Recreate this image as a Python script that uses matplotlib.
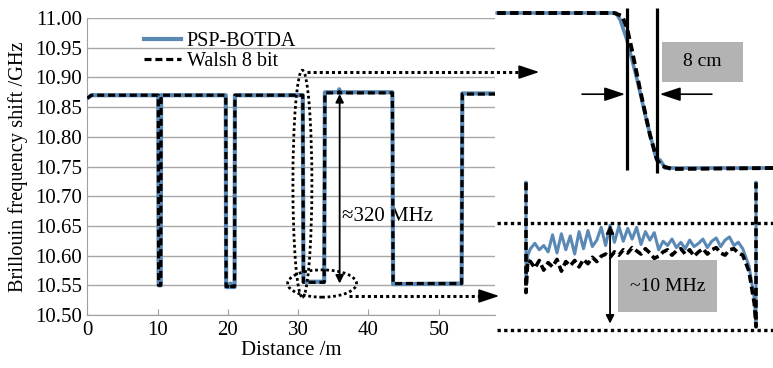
import numpy as np
import matplotlib
matplotlib.use("Agg")
import matplotlib.pyplot as plt
from matplotlib.patches import Ellipse, Rectangle

plt.rcParams['font.family'] = ['Liberation Serif', 'DejaVu Serif']

# main trace: distance (m) and Brillouin frequency shift (GHz)
dist_m = [0, 0.6, 10.1, 10.15, 10.45, 10.5, 19.7, 19.75, 20.2, 20.35, 20.5, 20.95, 21.0,
          30.65, 30.75, 33.7, 33.8, 35.8, 35.85, 35.9, 43.4, 43.5, 53.25, 53.35, 58]
bfs_psp = [10.865, 10.870, 10.870, 10.550, 10.550, 10.870, 10.870, 10.547, 10.547, 10.553, 10.547, 10.547, 10.870,
           10.870, 10.556, 10.556, 10.875, 10.875, 10.880, 10.875, 10.875, 10.552, 10.553, 10.873, 10.873]
bfs_walsh = [10.865, 10.870, 10.870, 10.550, 10.550, 10.870, 10.870, 10.548, 10.548, 10.552, 10.548, 10.548, 10.870,
             10.870, 10.555, 10.555, 10.874, 10.874, 10.876, 10.874, 10.874, 10.553, 10.553, 10.872, 10.872]

# zoom 1: falling edge, position in cm
edge_cm = [1.9, 33.4, 34.5, 36.3, 39.0, 41.6, 44.0, 45.1, 46.4, 75.0]
edge_psp = [10.870, 10.870, 10.856, 10.815, 10.734, 10.648, 10.575, 10.571, 10.555, 10.555]
edge_cm_w = [1.9, 32.9, 35.0, 36.3, 37.6, 39.8, 42.4, 44.3, 45.6, 48.2, 75.0]
edge_walsh = [10.870, 10.870, 10.864, 10.840, 10.795, 10.713, 10.622, 10.571, 10.559, 10.553, 10.555]
marks_cm = [36.3, 44.3]

# zoom 2: low plateau, MHz above 10.55 GHz
plateau_m = np.linspace(31.05, 33.45, 49)
psp_mhz = [7.6, 8.1, 7.5, 7.9, 7.3, 8.9, 7.2, 9.0, 7.5, 8.8,
           7.1, 9.2, 7.6, 9.3, 7.8, 8.4, 9.6, 7.9, 9.8, 8.2,
           9.7, 8.3, 9.5, 8.5, 9.6, 8.0, 9.2, 8.4, 9.1, 7.5,
           8.3, 7.9, 8.5, 7.7, 8.2, 7.6, 8.4, 7.8, 8.1, 8.5,
           7.7, 8.3, 8.6, 7.8, 8.4, 8.7, 7.9, 8.2, 7.6]
walsh_mhz = [6.4, 5.8, 6.5, 5.6, 6.3, 5.9, 6.6, 5.5, 6.4, 6.0,
             6.5, 5.9, 6.6, 6.2, 6.8, 6.4, 6.9, 7.1, 6.8, 7.3,
             7.0, 7.5, 7.2, 7.7, 7.4, 7.1, 7.6, 7.2, 6.7, 6.9,
             7.3, 7.5, 7.0, 7.4, 7.6, 7.1, 7.5, 6.9, 7.3, 7.6,
             7.1, 7.5, 7.7, 7.2, 7.0, 7.5, 7.6, 7.2, 7.0]
left_m = [31.0, 31.0, 31.02]
psp_left = [13.8, 4.5, 7.0]
walsh_left = [13.8, 3.5, 6.5]
right_m = [33.52, 33.58, 33.6, 33.6]
psp_right = [6.0, 3.0, 0.5, 13.8]
walsh_right = [5.5, 2.5, 0.3, 13.8]

BLUE = '#5b89b6'
GRAY_BOX = '#b3b3b3'
dash = (0, (2.2, 1.2))
dots = (0, (1, 1))
arrow_head = '-|>,head_length=0.9,head_width=0.3'

fig = plt.figure(figsize=(7.73, 3.68), dpi=100)
W, H = 773, 368
ax = fig.add_axes([87.3 / W, 1 - 315 / H, (495 - 87.3) / W, (315 - 18) / H])

ax.plot(dist_m, bfs_psp, color=BLUE, lw=3.0, label='PSP-BOTDA', zorder=3)
ax.plot(dist_m, bfs_walsh, color='black', lw=2.3, ls=dash, label='Walsh 8 bit', zorder=4)

ax.set_xlim(0, 58)
ax.set_ylim(10.5, 11.0)
ax.set_xticks([0, 10, 20, 30, 40, 50])
ax.set_yticks(np.arange(10.5, 11.001, 0.05))
ax.yaxis.set_major_formatter(matplotlib.ticker.FormatStrFormatter('%.2f'))
ax.grid(axis='y', color='#a8a8a8', lw=1.0)
ax.set_axisbelow(True)
for s in ['top', 'right']:
    ax.spines[s].set_visible(False)
for s in ['left', 'bottom']:
    ax.spines[s].set_color('#a0a0a0')
ax.tick_params(axis='x', direction='in', length=4, color='#a0a0a0', labelsize=15, pad=4)
ax.tick_params(axis='y', length=0, labelsize=15, pad=4)
ax.set_xlabel('Distance /m', fontsize=15, labelpad=1)
ax.set_ylabel('Brillouin frequency shift /GHz', fontsize=14.7, labelpad=5)

ax.legend(loc='upper left', bbox_to_anchor=(0.12, 0.98), frameon=False, fontsize=14.5,
          handlelength=1.8, handletextpad=0.3, labelspacing=0.02, borderaxespad=0)

# annotations on main plot
ax.annotate('', xy=(35.9, 10.872), xytext=(35.9, 10.553),
            arrowprops=dict(arrowstyle='<|-|>', color='black', lw=1.3, mutation_scale=12,
                            shrinkA=0, shrinkB=0), zorder=5)
ax.text(36.3, 10.665, '≈320 MHz', fontsize=15, ha='left', va='center', zorder=2)
ax.add_patch(Ellipse((30.6, 10.721), 2.7, 0.382, fill=False, ls=dots, lw=2.0, color='black',
                     clip_on=False, zorder=6))
ax.add_patch(Ellipse((33.4, 10.553), 9.8, 0.046, fill=False, ls=dots, lw=2.0, color='black',
                     clip_on=False, zorder=6))
ax.plot([31.2, 63.0], [10.909, 10.909], color='black', lw=2.2, ls=dots, clip_on=False, zorder=6)
ax.annotate('', xy=(64.3, 10.909), xytext=(62.0, 10.909),
            arrowprops=dict(arrowstyle=arrow_head, color='black', lw=1.2,
                            mutation_scale=14, shrinkA=0, shrinkB=0), annotation_clip=False, zorder=6)
ax.plot([37.3, 57.3], [10.532, 10.532], color='black', lw=2.2, ls=dots, clip_on=False, zorder=6)
ax.annotate('', xy=(58.6, 10.532), xytext=(56.3, 10.532),
            arrowprops=dict(arrowstyle=arrow_head, color='black', lw=1.2,
                            mutation_scale=14, shrinkA=0, shrinkB=0), annotation_clip=False, zorder=6)

# top inset: edge sharpness
ax1 = fig.add_axes([490 / W, 1 - 175 / H, 283 / W, 175 / H])
ax1.patch.set_alpha(0)
ax1.axis('off')
ax1.set_xlim(0, 75)
ax1.set_ylim(10.5408, 10.8964)
ax1.plot(edge_cm, edge_psp, color=BLUE, lw=2.6, zorder=3)
ax1.plot(edge_cm_w, edge_walsh, color='black', lw=2.8, ls=(0, (2.2, 1.1)), zorder=4)
ax1.vlines(marks_cm, [10.551, 10.545], [10.880, 10.880], color='black', lw=2.3, zorder=5)
ax1.annotate('', xy=(35.8, 10.705), xytext=(24.4, 10.705),
             arrowprops=dict(arrowstyle=arrow_head, color='black', lw=1.2,
                             mutation_scale=14, shrinkA=0, shrinkB=0))
ax1.annotate('', xy=(45.0, 10.705), xytext=(58.8, 10.705),
             arrowprops=dict(arrowstyle=arrow_head, color='black', lw=1.2,
                             mutation_scale=14, shrinkA=0, shrinkB=0))
ax1.add_patch(Rectangle((45.6, 10.730), 21.5, 0.081, color=GRAY_BOX, lw=0, zorder=2))
ax1.text(56.35, 10.7705, '8 cm', fontsize=14, ha='center', va='center', zorder=3)

# bottom inset: plateau fluctuation
ax2 = fig.add_axes([490 / W, 0, 283 / W, 193 / H])
ax2.patch.set_alpha(0)
ax2.axis('off')
ax2.set_xlim(30.593, 33.792)
ax2.set_ylim(10.55 - 3.55 / 1000, 10.55 + 14.49 / 1000)
px = list(left_m) + list(plateau_m) + list(right_m)
ax2.plot(px, 10.55 + np.array(psp_left + psp_mhz + psp_right) / 1000, color=BLUE, lw=2.2, zorder=3)
ax2.plot(px, 10.55 + np.array(walsh_left + walsh_mhz + walsh_right) / 1000, color='black', lw=2.6,
         ls=(0, (2.2, 1.1)), zorder=4)
ax2.hlines([10.560, 10.550], 30.67, 33.792, color='black', lw=2.4, linestyles=[dots], zorder=5)
ax2.annotate('', xy=(31.95, 10.5598), xytext=(31.95, 10.5506),
             arrowprops=dict(arrowstyle='<|-|>', color='black', lw=1.3, mutation_scale=12,
                             shrinkA=0, shrinkB=0), zorder=6)
ax2.add_patch(Rectangle((32.04, 10.55168), 1.12, 0.00486, color=GRAY_BOX, lw=0, zorder=2))
ax2.text(32.6, 10.55411, '~10 MHz', fontsize=14, ha='center', va='center', zorder=3)

fig.savefig('out.png', dpi=100)
